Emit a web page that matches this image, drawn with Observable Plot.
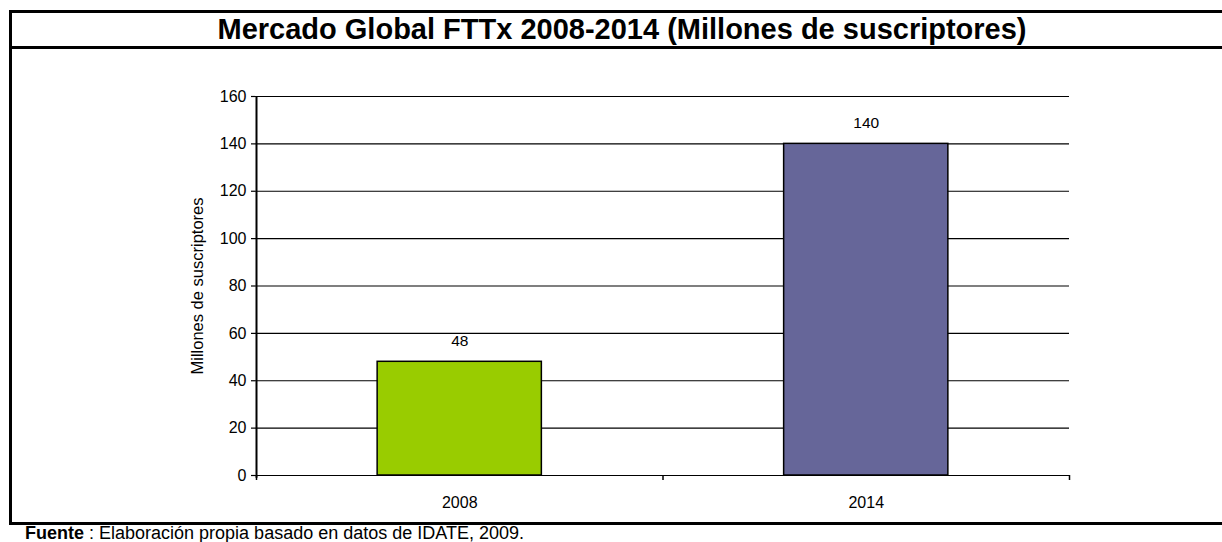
<!DOCTYPE html>
<html><head><meta charset="utf-8">
<script src="https://cdn.jsdelivr.net/npm/d3@7"></script>
<script src="https://cdn.jsdelivr.net/npm/@observablehq/plot@0.6"></script>
<style>
body{margin:0;width:1222px;height:542px;overflow:hidden;background:#fff;font-family:"Liberation Sans",Arial,sans-serif;position:relative}
#box{position:absolute;left:9px;top:10px;width:1240px;height:509px;border-left:3px solid #000;border-top:3px solid #000;border-bottom:3px solid #000}
#title{position:absolute;left:12px;top:13px;width:1220px;height:33px;border-bottom:3px solid #000;text-align:center;font-weight:bold;font-size:29px;line-height:33px}
#chart{position:absolute;left:0;top:50px}
#foot{position:absolute;left:25px;top:523px;font-size:18px;white-space:nowrap;line-height:20px}
</style></head><body>
<div id="box"></div>
<div id="title">Mercado Global FTTx 2008-2014 (Millones de suscriptores)</div>
<div id="chart"></div>
<div id="foot"><b>Fuente</b> : Elaboración propia basado en datos de IDATE, 2009.</div>
<script>
const categories = ["2008", "2014"];
const values = [48, 140];
const colors = ["#99CC00", "#666699"];
const yTicks = [0, 20, 40, 60, 80, 100, 120, 140, 160];
const yLabel = "Millones de suscriptores";

const data = categories.map((c, i) => ({cat: c, i, v: values[i], color: colors[i]}));

const plot = Plot.plot({
  width: 1222,
  height: 470,
  marginLeft: 256,
  marginRight: 153,
  marginTop: 46,
  marginBottom: 45,
  style: {fontFamily: "Liberation Sans, Arial, sans-serif", fontSize: "16px", color: "#000", background: "transparent"},
  x: {type: "linear", domain: [0, categories.length], axis: null},
  y: {domain: [0, 160], axis: null},
  marks: [
    Plot.ruleY(yTicks, {stroke: "#000", strokeWidth: 1.2}),
    Plot.rectY(data, {x1: d => d.i + 0.298, x2: d => d.i + 0.702, y1: 0, y2: "v", fill: "color", stroke: "#000", strokeWidth: 1.5}),
    Plot.text(data, {x: d => d.i + 0.5, y: "v", text: d => String(d.v), dy: -21, fontSize: 15.5, fill: "#000"}),
    Plot.axisY({ticks: yTicks, tickSize: 5, tickPadding: 5, fontSize: 16, label: null, stroke: "#000", strokeWidth: 1.2}),
    Plot.text([yLabel], {frameAnchor: "left", textAnchor: "middle", dx: -59, rotate: -90, fontSize: 16.5, fill: "#000"}),
    Plot.ruleX([0], {y1: -1.2, y2: 160, stroke: "#000", strokeWidth: 2}),
    Plot.axisX({ticks: d3.range(categories.length + 1), tickFormat: () => "", tickSize: 5, stroke: "#000", strokeWidth: 1.5, label: null}),
    Plot.axisX({ticks: categories.map((c, i) => i + 0.5), tickFormat: t => categories[Math.floor(t)], tickSize: 0, tickPadding: 21, fontSize: 16, label: null})
  ]
});
document.getElementById("chart").appendChild(plot);
</script>
</body></html>
